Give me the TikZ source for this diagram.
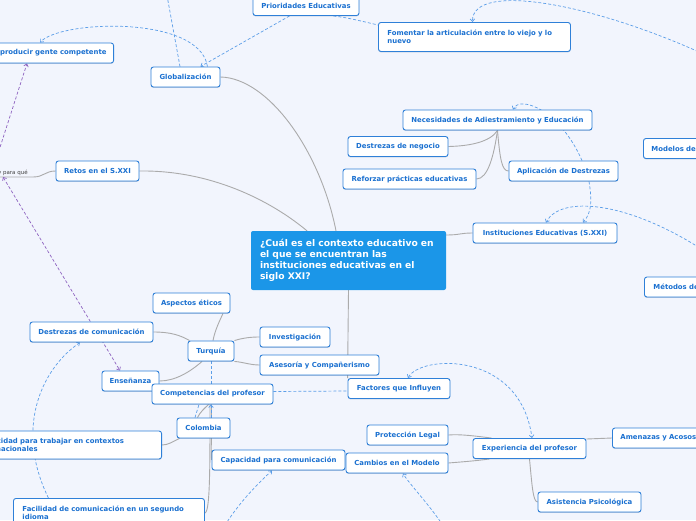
\documentclass[tikz,border=0pt]{standalone}
\usepackage{fontspec}
\setmainfont{DejaVu Sans}
\usepackage{xcolor}
\definecolor{cBg}{HTML}{F2F5FD}
\definecolor{cBorder}{HTML}{2F80D8}
\definecolor{cText}{HTML}{1A70D0}
\definecolor{cCore}{HTML}{1B96E8}
\definecolor{cLink}{HTML}{ABABAB}
\definecolor{cRel}{HTML}{5C9EE8}
\definecolor{cPurp}{HTML}{8E63C0}
\usepackage{tikz}
\usetikzlibrary{positioning, arrows.meta, backgrounds, shadows}

\begin{document}
\begin{tikzpicture}[x=1pt, y=-1pt,
    >={Straight Barb[length=2.6pt, width=4.6pt]},
    box/.style  = {draw=cBorder, fill=white, rounded corners=2.5pt,
                   line width=0.9pt, text=cText, inner sep=0pt,
                   minimum height=20pt,
                   font=\bfseries\fontsize{6.9}{8}\selectfont,
                   drop shadow={shadow xshift=0pt, shadow yshift=-0.9pt,
                                opacity=0.25, fill=cBorder!60!black}},
    core/.style = {fill=cCore, rounded corners=2pt, text=white,
                   align=left, text width=177pt, inner xsep=9pt,
                   minimum height=59pt,
                   font=\bfseries\fontsize{9.2}{11}\selectfont},
    link/.style = {draw=cLink, line width=0.9pt},
    rel/.style  = {draw=cRel, line width=0.7pt, dash pattern=on 3pt off 2pt},
    relp/.style = {draw=cPurp, line width=0.7pt, dash pattern=on 3pt off 2pt}
]
\useasboundingbox (0,0) rectangle (696,520);

% --- Stred mapy -----------------------------------------------------------
\node[core] (ctx) at (348.5,260.5)
  {¿Cuál es el contexto educativo en\\el que se encuentran las\\instituciones educativas en el\\siglo XXI?};

% --- Horni cast -----------------------------------------------------------
\node[box, minimum width=106pt] (prio) at (306,5.5) {Prioridades Educativas};
\node[box, anchor=east, text width=130pt, align=right, inner xsep=7pt]
  (repro) at (114,53) {Reproducir gente competente};
\node[box, minimum width=69pt] (glob) at (185.5,77) {Globalización};
\node[box, anchor=north west, text width=174pt, align=left, inner xsep=9pt,
      minimum height=29pt] (fom) at (378,22)
  {Fomentar la articulación entre lo viejo y lo\\nuevo};
\node[box, minimum width=189pt] (neces) at (497.5,120) {Necesidades de Adiestramiento y Educación};
\node[box, minimum width=100pt] (dneg)  at (398,146.5) {Destrezas de negocio};
\node[box, minimum width=133pt] (refor) at (409.5,179) {Reforzar prácticas educativas};
\node[box, minimum width=109pt] (aplic) at (563.5,171) {Aplicación de Destrezas};
\node[box, anchor=west, text width=90pt, align=left, inner xsep=8pt]
  (model) at (643,148.5) {Modelos de};
\node[box, minimum width=83pt]  (retos) at (97.5,171) {Retos en el S.XXI};
\node[font=\fontsize{5.5}{6}\selectfont, text=black!75, anchor=south east,
      inner xsep=5pt, inner ysep=1.5pt, text width=50pt, align=right]
  (ypq) at (33,177) {y para qué};
\node[box, minimum width=144pt] (inst)  at (545,233) {Instituciones Educativas (S.XXI)};
\node[box, anchor=west, text width=90pt, align=left, inner xsep=9pt]
  (metod) at (644,287) {Métodos de};

% --- Leva dolni cast (Turquia, Colombia) ---------------------------------
\node[box, minimum width=77pt]  (etic)   at (191.5,303) {Aspectos éticos};
\node[box, minimum width=123pt] (dcom)   at (91.5,332)  {Destrezas de comunicación};
\node[box, minimum width=70pt]  (invest) at (295,337)   {Investigación};
\node[box, minimum width=46pt]  (turq)   at (211,351)   {Turquía};
\node[box, minimum width=119pt] (ases)   at (319.5,365) {Asesoría y Compañerismo};
\node[box, minimum width=57pt]  (ense)   at (130.5,381) {Enseñanza};
\node[box, minimum width=121pt] (compet) at (212.5,394) {Competencias del profesor};
\node[box, minimum width=53pt]  (colom)  at (203.5,428) {Colombia};
\node[box, anchor=east, text width=175pt, align=left, inner xsep=9pt,
      minimum height=28pt] (ctrab) at (162,445)
  {Capacidad para trabajar en contextos\\internacionales};
\node[box, minimum width=133pt] (ccom)   at (278.5,460) {Capacidad para comunicación};
\node[box, anchor=north west, text width=173pt, align=left, inner xsep=9pt,
      minimum height=29pt] (facil) at (13,498)
  {Facilidad de comunicación en un segundo\\idioma};

% --- Prava dolni cast (Experiencia) --------------------------------------
\node[box, minimum width=102pt] (factor) at (399,388.5) {Factores que Influyen};
\node[box, minimum width=81pt]  (prot)   at (407.5,435) {Protección Legal};
\node[box, minimum width=102pt] (camb)   at (397,463)   {Cambios en el Modelo};
\node[box, minimum width=113pt] (exper)  at (529.5,448.5) {Experiencia del profesor};
\node[box, anchor=west, text width=98pt, align=left, inner xsep=8pt]
  (amen) at (612,438) {Amenazas y Acosos};
\node[box, minimum width=103pt] (asist)  at (589.5,502) {Asistencia Psicológica};

% volne konce vazeb mimo obrazek
\coordinate (topOut)    at (166,-10);
\coordinate (rightOutA) at (712,58);
\coordinate (rightOutB) at (712,256);
\coordinate (botOutA)   at (222,530);
\coordinate (botOutB)   at (446,530);
\coordinate (leftOut)   at (-6,166);

\begin{scope}[on background layer]
\fill[cBg] (0,0) rectangle (696,520);

% --- Vetve (sede) ---------------------------------------------------------
\draw[link] (glob.east) .. controls (268,78) and (320,150) .. ([xshift=-12.5pt]ctx.north);
\draw[link] (retos.east) .. controls (210,170) and (270,200) .. ([xshift=-41.5pt]ctx.north);
\draw[link] ([yshift=25.5pt]ctx.east) .. controls (460,235) and (460,233) .. (inst.west);
\draw[link] (ctx.south) -- (factor.north west);
\draw[link] (retos.west) .. controls (45,171) and (44,177) .. (ypq.south east) -- (ypq.south west);

\draw[link] (neces.south) .. controls (490,142) and (470,146) .. (dneg.east);
\draw[link] (neces.south) .. controls (494,155) and (488,179) .. (refor.east);
\draw[link] (neces.south) .. controls (500,160) and (502,171) .. (aplic.west);

\draw[link] ([xshift=2pt]turq.north) .. controls (215,330) and (220,320) .. ([xshift=31.5pt]etic.south);
\draw[link] ([xshift=2pt]turq.north west) .. controls (180,335) and (170,332) .. (dcom.east);
\draw[link] (turq.north east) .. controls (243,338) and (250,337) .. (invest.west);
\draw[link] (turq.south east) .. controls (243,362) and (250,365) .. (ases.west);
\draw[link] ([xshift=-9pt]turq.south) .. controls (190,372) and (175,381) .. (ense.east);

\draw[link] ([xshift=-6pt]colom.north) .. controls (200,412) and (205,408) .. ([xshift=-4pt]compet.south);
\draw[link] ([xshift=3pt]colom.south west) .. controls (172,442) and (168,445) .. (ctrab.east);
\draw[link] ([xshift=-1pt]compet.south) .. controls (211.5,430) and (211,455) .. (ccom.west);
\draw[link] ([xshift=-2.5pt]compet.south) .. controls (210,470) and (210,512) .. (facil.east);

\draw[link] ([xshift=19pt]exper.north west) .. controls (475,436) and (460,434) .. (prot.east);
\draw[link] ([xshift=17pt]exper.south west) .. controls (475,461) and (460,462) .. (camb.east);
\draw[link] ([yshift=9.5pt]exper.east) -- (amen.west);
\draw[link] (exper.south) .. controls (532,485) and (533,502) .. (asist.west);

% --- Vazby (carkovane) ----------------------------------------------------
\draw[rel] (topOut) -- ([xshift=-5.5pt]glob.north);
\draw[rel, ->] ([xshift=-13pt]glob.north east) .. controls (200,15) and (60,20) .. ([xshift=-74pt]repro.north east);
\draw[rel, ->] ([xshift=37pt]prio.south west) -- ([xshift=-20pt]glob.north east);
\draw[rel] ([xshift=-26pt]prio.south east) .. controls (350,18) and (365,22) .. ([yshift=-3pt]fom.north west);
\draw[rel, ->] (rightOutA) .. controls (600,5) and (472,-20) .. ([xshift=-2pt]fom.north);
\draw[rel, ->] ([xshift=18.5pt]aplic.north) .. controls (560,110) and (520,95) .. ([xshift=15.5pt]neces.north);
\draw[rel, ->] ([xshift=25.5pt]aplic.south) .. controls (592,200) and (592,212) .. ([xshift=38pt]inst.north);
\draw[rel, ->] (rightOutB) .. controls (630,200) and (560,195) .. ([xshift=1pt]inst.north);
\draw[rel] ([yshift=2.5pt]compet.east) -- ([yshift=-2.5pt]factor.west);
\draw[rel] (turq.south) -- (turq.south |- compet.north);
\draw[rel] ([xshift=-8.5pt]colom.north) -- ([xshift=-13.5pt]compet.south);
\draw[rel, ->] ([xshift=7.5pt]colom.north) -- ([xshift=-1.5pt]compet.south);
\draw[rel, ->] ([xshift=-60.5pt]facil.north) .. controls (15,430) and (40,370) .. ([xshift=-11.5pt]dcom.south);
\draw[rel, ->] (botOutA) .. controls (240,500) and (262,480) .. ([xshift=-6.5pt]ccom.south);
\draw[rel, ->] (botOutB) .. controls (430,505) and (410,485) .. ([xshift=6pt]camb.south);
\draw[rel, <->] ([xshift=9pt]factor.north) .. controls (420,355) and (520,350) .. ([xshift=2.5pt]exper.north);

\draw[relp, ->] (leftOut) -- ([xshift=-87pt]repro.south east);
\draw[relp, <->] ([xshift=-30pt]ypq.south east) -- ([xshift=-10.5pt]ense.north);
\end{scope}
\end{tikzpicture}
\end{document}
